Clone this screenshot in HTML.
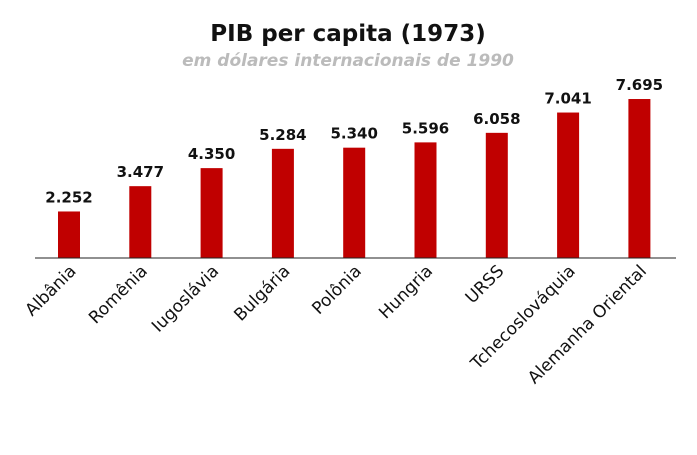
<!DOCTYPE html>
<html><head><meta charset="utf-8"><style>
body{margin:0;background:#fff;width:697px;height:450px;overflow:hidden}
svg{font-family:"DejaVu Sans","Liberation Sans",sans-serif}
</style></head><body>
<svg width="697" height="450">
<text x="348" y="41" text-anchor="middle" font-size="23" font-weight="bold" fill="#111">PIB per capita (1973)</text>
<text x="348" y="66" text-anchor="middle" font-size="17" font-weight="bold" font-style="italic" fill="#bbb">em dólares internacionais de 1990</text>
<g id="bars"></g>
<line x1="35" x2="676" y1="258" y2="258" stroke="#222" stroke-width="1"/>
</svg>
<script>
const categories=["Albânia","Romênia","Iugoslávia","Bulgária","Polônia","Hungria","URSS","Tchecoslováquia","Alemanha Oriental"];
const values=[2252,3477,4350,5284,5340,5596,6058,7041,7695];
const valueLabels=["2.252","3.477","4.350","5.284","5.340","5.596","6.058","7.041","7.695"];
const g=document.getElementById('bars');
const ns="http://www.w3.org/2000/svg";
const base=258, scaleY=v=>v*0.02066, x0=69, step=71.3, bw=22;
const xc=i=>x0+i*step;
categories.forEach((c,i)=>{
  const h=scaleY(values[i]);
  const r=document.createElementNS(ns,'rect');
  
  
  r.setAttribute('x',xc(i)-bw/2);r.setAttribute('y',base-h);r.setAttribute('width',bw);r.setAttribute('height',h);r.setAttribute('fill','#c00000');
  g.appendChild(r);
  const t=document.createElementNS(ns,'text');
  
  
  t.setAttribute('x',xc(i));t.setAttribute('y',base-h-9);t.setAttribute('text-anchor','middle');t.setAttribute('font-size','15');t.setAttribute('font-weight','bold');t.setAttribute('fill','#111');
  t.textContent=valueLabels[i];g.appendChild(t);
  const l=document.createElementNS(ns,'text');
  
  
  const lx=xc(i)+8, ly=272;
  l.setAttribute('x',lx);l.setAttribute('y',ly);l.setAttribute('text-anchor','end');l.setAttribute('font-size','17');l.setAttribute('fill','#111');
  l.setAttribute('transform','rotate(-45 '+lx+' '+ly+')');
  l.textContent=c;g.appendChild(l);
});
</script>
</body></html>
